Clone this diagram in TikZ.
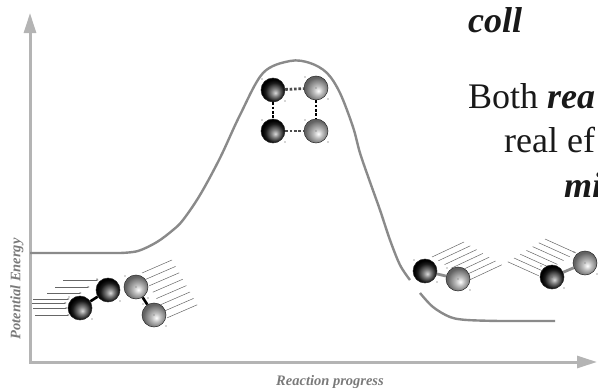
\documentclass[tikz,border=0pt]{standalone}
\usepackage{fontspec}
\setmainfont{Liberation Serif}
\usetikzlibrary{arrows.meta}
\definecolor{axisgray}{HTML}{B4B4B4}
\definecolor{curvegray}{HTML}{8A8A8A}
\definecolor{labelgray}{HTML}{7A7A7A}
% atom shadings, highlight low and to the right
\pgfdeclareradialshading{darkball}{\pgfpoint{5bp}{-6bp}}{color(0bp)=(black!15); color(8bp)=(black!50); color(19bp)=(black!90); color(25bp)=(black); color(50bp)=(black)}
\pgfdeclareradialshading{lightball}{\pgfpoint{5bp}{-6bp}}{color(0bp)=(white); color(9bp)=(black!25); color(20bp)=(black!50); color(25bp)=(black!62); color(50bp)=(black!62)}

\begin{document}
\begin{tikzpicture}[
    x=1pt, y=-1pt,
    darkatom/.style={circle, minimum size=24pt, inner sep=0pt, draw=black!85, line width=0.5pt, shading=darkball},
    lightatom/.style={circle, minimum size=24pt, inner sep=0pt, draw=black!85, line width=0.5pt, shading=lightball},
    bond/.style={line width=2.6pt, black},
    greybond/.style={line width=2.8pt, black!45},
    halfbond/.style={line width=2.8pt, black, dash pattern=on 2.6pt off 1.8pt},
    trail/.style={line width=0.5pt, black!60},
    energy/.style={line width=2.4pt, curvegray, line join=round},
    axis/.style={line width=3pt, axisgray},
    axlabel/.style={inner sep=0pt, text=labelgray, font=\fontsize{14.5}{16}\selectfont\bfseries\itshape},
    say/.style={inner sep=0pt, text=black!90, font=\fontsize{36}{40}\selectfont},
]
  \useasboundingbox (0,0) rectangle (598,388);
  \clip (0,0) rectangle (598,388);

  % axes
  \draw[axis, {Triangle[length=20pt,width=12pt]}-{Triangle[length=20pt,width=12pt]}]
    (30,13) -- (30,362) -- (597,362);
  \node[axlabel, rotate=90] (ylab) at (17,289) {Potential Energy};
  \node[axlabel, anchor=base] (xlab) at (330,385) {Reaction progress};

  % energy profile
  \draw[energy] (30,253) -- (120,253) -- plot[smooth, tension=0.55] coordinates {(120,253) (138,251) (157,242) (173,230) (183,220) (200,195) (220,158) (240,115) (263,73) (290,61) (310,63) (327,73) (340,93) (353,127) (360,153) (370,182) (380,210) (390,240) (400,265) (410,280)};
  \draw[energy] plot[smooth, tension=0.55] coordinates {(420,293) (433,307) (450,317) (467,320) (500,321)} -- (555,321);

  % reactants coming in
  \foreach \xa/\xb/\yy in {63/99/280, 55/90/287, 47/82/293, 33/70/299, 32/67/303, 33/68/308, 35/70/315}
    \draw[trail, -{Latex[length=2.5pt,width=1.6pt]}] (\xa,\yy) -- (\xb,\yy);
  \foreach \i in {0,...,7}
    \draw[trail] ({142+3.6*\i},{273+6.4*\i}) -- ++(30,-13);
  \node[darkatom] (a1) at (80,308) {};
  \node[darkatom] (a2) at (108,290) {};
  \node[lightatom] (b1) at (136,287) {};
  \node[lightatom] (b2) at (154,315) {};
  \draw[bond] (a1) -- (a2);
  \draw[bond] (b1) -- (b2);

  % activated complex
  \node[darkatom] (t1) at (273,90) {};
  \node[lightatom] (t2) at (316,88) {};
  \node[darkatom] (t3) at (273,131) {};
  \node[lightatom] (t4) at (316,131) {};
  \draw[halfbond, black!70] (t1) -- (t2);
  \draw[halfbond, black!70] (t3) -- (t4);
  \draw[halfbond] (t1) -- (t3);
  \draw[halfbond] (t2) -- (t4);

  % products leaving
  \foreach \i in {0,...,6}
    \draw[trail] ({432+6.3*\i},{257+3.8*\i}) -- ++(32,-15);
  \foreach \i in {0,...,6}
    \draw[trail] ({545-6.2*\i},{239+3.8*\i}) -- ++(31,14);
  \node[darkatom] (p1) at (425,271) {};
  \node[lightatom] (p2) at (458,279) {};
  \node[darkatom] (q1) at (552,277) {};
  \node[lightatom] (q2) at (585,263) {};
  \draw[greybond] (p1) -- (p2);
  \draw[greybond] (q1) -- (q2);

  % little handle marks round the atoms
  \foreach \n in {a1,a2,b1,b2,t1,t2,t3,t4,p1,p2,q1,q2} {
    \fill[black!70] ([shift={(-11,-11)}]\n.center) circle (0.7);
    \fill[black!70] ([shift={(12,11)}]\n.center) circle (0.7);
  }
  \foreach \n in {b1,b2,t2,t4,p2,q1,q2}
    \fill[black!60] (\n.center) circle (0.6);

  % slide text
  \node[say, anchor=base west] (l1) at (468,32) {\textbf{\textit{coll}}};
  \node[say, anchor=base west] (l2) at (468,108) {Both \textbf{\textit{rea}}};
  \node[say, anchor=base west] (l3) at (504,152) {real ef};
  \node[say, anchor=base west] (l4) at (564,197) {\textbf{\textit{mi}}};
\end{tikzpicture}
\end{document}
